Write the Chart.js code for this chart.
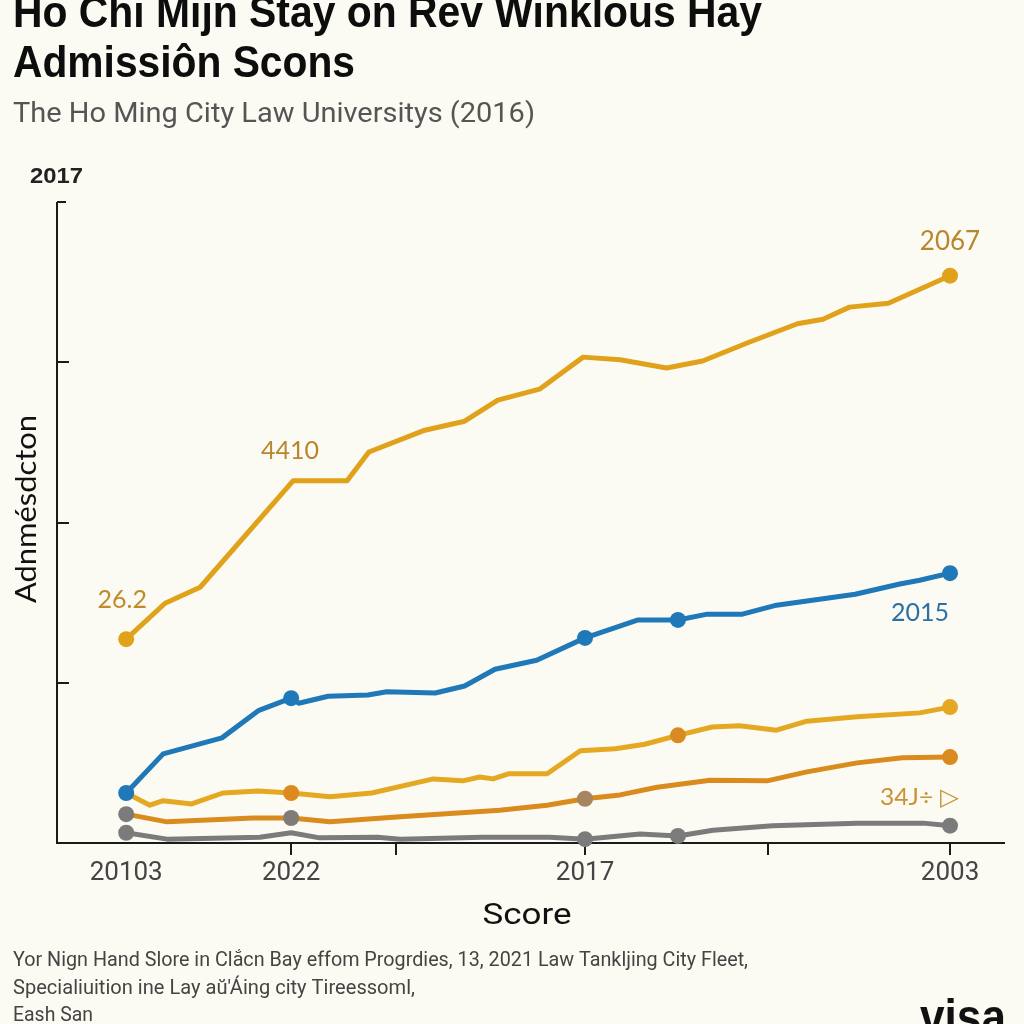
<!DOCTYPE html>
<html><head><meta charset="utf-8">
<script src="https://cdn.jsdelivr.net/npm/chart.js@4.4.1/dist/chart.umd.min.js"></script>
<style>html,body{margin:0;padding:0;background:#FCFBF3;}canvas{display:block;}</style>
</head><body>
<canvas id="c" width="1024" height="1024"></canvas>
<script>
// ---------- DATA ----------
const titleLines = ["Ho Chi Mijn Stay on Rev Winklous Hay", "Admissiôn Scons"];
const subtitle = "The Ho Ming City Law Universitys (2016)";
const yTopLabel = "2017";
const yAxisTitle = "Adnmésdcton";
const xAxisTitle = "Score";
const footerLines = [
  "Yor Nign Hand Slore in Clắcn Bay effom Progrdies, 13, 2021 Law Tankljing City Fleet,",
  "Specialiuition ine Lay aŭ'Áing city Tireessoml,",
  "Eash San"
];
const logoText = "visa";

const xLabelValues = [7.3, 24.7, 55.7, 94.2];
const xLabels = ["20103", "2022", "2017", "2003"];
const xTickMarkValues = [24.7, 35.8, 55.7, 75.0, 94.2];
const yTickValues = [25, 50, 75, 100];

const topX = [7.3, 11.4, 15.1, 24.9, 30.6, 32.9, 38.8, 43.0, 46.5, 50.9, 55.5, 59.4, 64.3, 68.1, 72.8, 78.1, 80.8, 83.6, 87.7, 94.2];
const topY = [31.8, 37.4, 39.9, 56.5, 56.5, 61.0, 64.4, 65.8, 69.1, 70.8, 75.8, 75.4, 74.1, 75.2, 78.0, 81.0, 81.7, 83.6, 84.2, 88.5];
const topDots = [0, 19];

const blueX = [7.3, 11.2, 17.4, 21.3, 24.7, 25.5, 28.6, 32.8, 34.8, 39.9, 43.0, 46.2, 50.6, 55.7, 61.3, 65.5, 68.6, 72.3, 75.9, 84.2, 88.9, 91.0, 94.2];
const blueY = [7.8, 13.9, 16.4, 20.7, 22.6, 21.8, 22.9, 23.1, 23.6, 23.4, 24.5, 27.1, 28.5, 32.0, 34.8, 34.8, 35.7, 35.7, 37.1, 38.8, 40.4, 41.0, 42.1];
const blueDots = [0, 4, 13, 15, 22];

const midX = [7.3, 9.8, 11.2, 14.2, 17.5, 21.2, 24.7, 28.8, 33.2, 39.7, 42.8, 44.6, 46.0, 47.6, 51.7, 55.2, 58.9, 62.0, 65.5, 69.1, 72.0, 75.9, 79.1, 84.4, 91.0, 94.2];
const midY = [7.8, 5.9, 6.6, 6.1, 7.8, 8.1, 7.8, 7.2, 7.8, 10.0, 9.7, 10.3, 10.0, 10.8, 10.8, 14.4, 14.7, 15.4, 16.8, 18.1, 18.3, 17.6, 19.0, 19.7, 20.3, 21.2];
const midDots = [6, 18, 25];

const orangeX = [7.3, 11.6, 20.7, 24.7, 28.8, 36.2, 46.7, 51.7, 55.7, 59.4, 63.3, 68.9, 74.9, 79.1, 84.4, 89.2, 94.2];
const orangeY = [4.5, 3.3, 3.9, 3.9, 3.3, 4.1, 5.1, 5.9, 6.9, 7.5, 8.7, 9.8, 9.7, 11.1, 12.5, 13.3, 13.4];
const orangeDots = [0, 3, 8, 16];

const grayX = [7.3, 11.6, 21.4, 24.7, 27.7, 33.8, 36.2, 44.9, 52.0, 55.7, 61.5, 65.5, 69.2, 75.5, 84.4, 91.4, 94.2];
const grayY = [1.6, 0.6, 0.9, 1.6, 0.8, 0.9, 0.6, 0.9, 0.9, 0.6, 1.4, 1.1, 2.0, 2.7, 3.1, 3.1, 2.7];
const grayDots = [0, 9, 11, 16];

const annoTexts = ["2067", "4410", "26.2", "2015", "34J÷ ▷"];

// ---------- STYLE / BUILD ----------
const BG = "#FCFBF3";
function pts(xs, ys) { return xs.map((x, i) => ({x: x, y: ys[i]})); }
function radii(n, dots, r) { return Array.from({length: n}, (_, i) => dots.includes(i) ? r : 0); }
function dotColors(n, dots, cols, base) {
  return Array.from({length: n}, (_, i) => { const k = dots.indexOf(i); return k >= 0 ? cols[k] : base; });
}
function ds(xs, ys, color, dots, r, cols) {
  return {
    data: pts(xs, ys), borderColor: color, borderWidth: 5, tension: 0,
    borderCapStyle: 'round', borderJoinStyle: 'round',
    pointRadius: radii(xs.length, dots, r), pointHoverRadius: 0, pointBorderWidth: 0,
    pointBackgroundColor: dotColors(xs.length, dots, cols, color), clip: false
  };
}
const datasets = [
  ds(blueX, blueY, "#1F78B7", blueDots, 8, ["#1F78B7","#1F78B7","#1F78B7","#1F78B7","#1F78B7"]),
  ds(topX, topY, "#E1A21B", topDots, 8, ["#E1A21B","#E1A21B"]),
  ds(midX, midY, "#E5A823", midDots, 8, ["#DC8A1E","#D98A22","#E5A823"]),
  ds(orangeX, orangeY, "#DA8B1D", orangeDots, 8, ["#7B7B7B","#807A78","#A8845F","#DA8B1D"]),
  ds(grayX, grayY, "#7B7B7B", grayDots, 8, ["#7B7B7B","#7B7B7B","#7B7B7B","#7B7B7B"])
];

function txt(ctx, s, x, y, font, color, align, width) {
  ctx.save();
  ctx.font = font; ctx.fillStyle = color; ctx.textBaseline = 'alphabetic'; ctx.textAlign = 'left';
  const w = ctx.measureText(s).width;
  const sx = width ? width / w : 1;
  const left = align === 'center' ? x - w * sx / 2 : x;
  ctx.translate(left, y); ctx.scale(sx, 1); ctx.fillText(s, 0, 0);
  ctx.restore();
}

const bgPlugin = {
  id: 'bg',
  beforeDraw(chart) {
    const ctx = chart.ctx; ctx.save(); ctx.fillStyle = BG; ctx.fillRect(0, 0, chart.width, chart.height); ctx.restore();
  },
  beforeDatasetsDraw(chart) {
    const ctx = chart.ctx, xs = chart.scales.x, ys = chart.scales.y;
    const x0 = xs.getPixelForValue(0), x1 = xs.getPixelForValue(100);
    const y0 = ys.getPixelForValue(0), y1 = ys.getPixelForValue(100);
    ctx.save();
    ctx.strokeStyle = "#1a1a1a"; ctx.lineWidth = 2;
    ctx.beginPath(); ctx.moveTo(x0, y1); ctx.lineTo(x0, y0); ctx.lineTo(x1, y0); ctx.stroke();
    yTickValues.forEach(v => { const p = Math.round(ys.getPixelForValue(v)); ctx.beginPath(); ctx.moveTo(x0, p); ctx.lineTo(x0 + (v === 100 ? 9 : 12), p); ctx.stroke(); });
    xTickMarkValues.forEach(v => { const p = Math.round(xs.getPixelForValue(v)); ctx.beginPath(); ctx.moveTo(p, y0); ctx.lineTo(p, y0 + 12); ctx.stroke(); });
    ctx.restore();
  },
  afterDraw(chart) {
    const ctx = chart.ctx, xs = chart.scales.x, ys = chart.scales.y;
    // titles
    txt(ctx, titleLines[0], 13, 27, "bold 44px 'Liberation Sans'", "#0d0d0d", 'left', 749);
    txt(ctx, titleLines[1], 13, 77, "bold 44px 'Liberation Sans'", "#0d0d0d", 'left', 342);
    txt(ctx, subtitle, 13, 122, "27px Roboto", "#555555", 'left', 522);
    txt(ctx, yTopLabel, 30, 183, "bold 22px 'Liberation Sans'", "#222222", 'left', 53);
    // y axis title
    ctx.save(); ctx.translate(36, 509); ctx.rotate(-Math.PI / 2);
    txt(ctx, yAxisTitle, 0, 0, "28px Lato", "#111111", 'center', 188);
    ctx.restore();
    // x labels
    xLabelValues.forEach((v, i) => txt(ctx, xLabels[i], xs.getPixelForValue(v), 880, "26px Roboto", "#444444", 'center'));
    txt(ctx, xAxisTitle, 527, 924, "30px Roboto", "#111111", 'center', 89);
    // footer
    txt(ctx, footerLines[0], 13, 966, "21px Roboto", "#444444", 'left', 735);
    txt(ctx, footerLines[1], 13, 994, "21px Roboto", "#444444", 'left', 402);
    txt(ctx, footerLines[2], 13, 1021, "21px Roboto", "#444444", 'left', 80);
    txt(ctx, logoText, 920, 1034, "bold 50px 'Liberation Sans'", "#111111", 'left', 86);
    // annotations anchored to data points
    const P = (xa, ya, i) => [xs.getPixelForValue(xa[i]), ys.getPixelForValue(ya[i])];
    let p;
    p = P(topX, topY, 19); txt(ctx, annoTexts[0], p[0], p[1] - 26, "26px Lato", "#B8862E", 'center');
    p = P(topX, topY, 3);  txt(ctx, annoTexts[1], p[0] - 3, p[1] - 22, "25px Lato", "#B8862E", 'center');
    p = P(topX, topY, 0);  txt(ctx, annoTexts[2], p[0] - 4, p[1] - 31, "25px Lato", "#C28A2A", 'center');
    p = P(blueX, blueY, 22); txt(ctx, annoTexts[3], p[0] - 30, p[1] + 48, "25px Lato", "#2C70A6", 'center');
    p = P(orangeX, orangeY, 16); txt(ctx, annoTexts[4], p[0] - 31, p[1] + 48, "24px Lato", "#C99334", 'center', 78);
  }
};

const chart = new Chart(document.getElementById('c'), {
  type: 'line',
  data: { datasets: datasets },
  options: {
    responsive: false, devicePixelRatio: 1, animation: false,
    layout: { padding: { left: 57, top: 202, right: 19, bottom: 181 } },
    scales: {
      x: { type: 'linear', min: 0, max: 100, display: false },
      y: { type: 'linear', min: 0, max: 100, display: false }
    },
    plugins: { legend: { display: false }, tooltip: { enabled: false } },
    events: []
  },
  plugins: [bgPlugin]
});
if (document.fonts && document.fonts.ready) document.fonts.ready.then(() => chart.update());
</script></body></html>
